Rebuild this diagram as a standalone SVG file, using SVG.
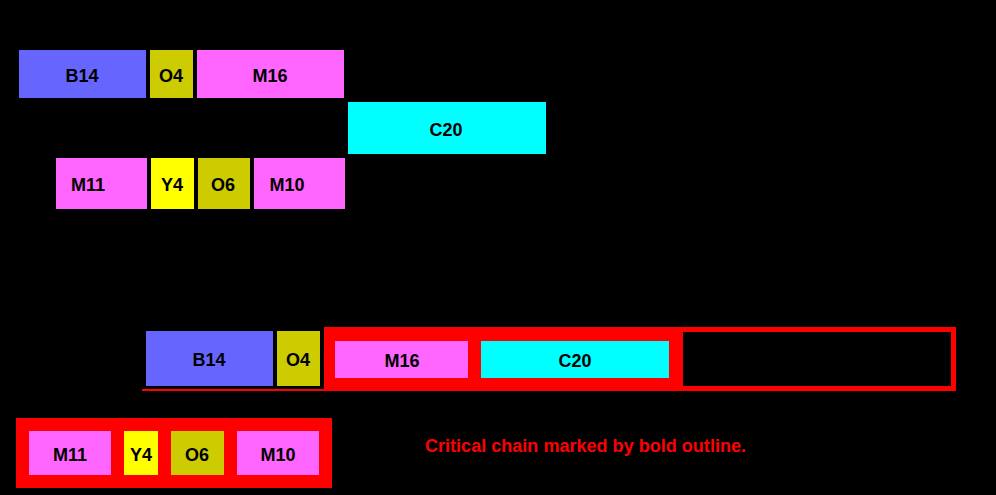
<svg xmlns="http://www.w3.org/2000/svg" width="996" height="495" viewBox="0 0 996 495">
<style>
.lbl{font-family:"Liberation Sans",Arial,sans-serif;font-weight:bold;font-size:18px;fill:#000;text-anchor:middle}
.b{fill:#6666ff}.o{fill:#cccc00}.m{fill:#ff66ff}.c{fill:#00ffff}.y{fill:#ffff00}.r{fill:#ff0000}
.note{font-family:"Liberation Sans",Arial,sans-serif;font-weight:bold;font-size:18px;fill:#ff0000}
</style>
<rect x="0" y="0" width="996" height="495" fill="#000"/>
<g id="top-B14"><rect class="b" x="19" y="50" width="127" height="48"/><text class="lbl" x="82" y="82">B14</text></g>
<g id="top-O4"><rect class="o" x="150" y="50" width="43" height="48"/><text class="lbl" x="171" y="82">O4</text></g>
<g id="top-M16"><rect class="m" x="197" y="50" width="147" height="48"/><text class="lbl" x="270" y="82">M16</text></g>
<g id="top-C20"><rect class="c" x="348" y="102" width="198" height="52"/><text class="lbl" x="446" y="136">C20</text></g>
<g id="top-M11"><rect class="m" x="56" y="158" width="91" height="51"/><text class="lbl" x="88" y="191">M11</text></g>
<g id="top-Y4"><rect class="y" x="151" y="158" width="43" height="51"/><text class="lbl" x="172" y="191">Y4</text></g>
<g id="top-O6"><rect class="o" x="198" y="158" width="52" height="51"/><text class="lbl" x="223" y="191">O6</text></g>
<g id="top-M10"><rect class="m" x="254" y="158" width="91" height="51"/><text class="lbl" x="287" y="191">M10</text></g>

<g id="connectors"><line x1="142" y1="390" x2="326" y2="390" stroke="#ff0000" stroke-width="2"/></g>

<g id="chain-box"><rect class="r" x="324" y="327" width="632" height="64"/><rect x="683" y="332" width="268" height="54" fill="#000"/></g>
<g id="bot-B14"><rect class="b" x="146" y="331" width="127" height="55"/><text class="lbl" x="209" y="366">B14</text></g>
<g id="bot-O4"><rect class="o" x="277" y="331" width="43" height="55"/><text class="lbl" x="298" y="366">O4</text></g>
<g id="bot-M16"><rect class="m" x="335" y="341" width="133" height="37"/><text class="lbl" x="402" y="367">M16</text></g>
<g id="bot-C20"><rect class="c" x="481" y="341" width="188" height="37"/><text class="lbl" x="575" y="367">C20</text></g>

<g id="feed-box"><rect class="r" x="16" y="418" width="316" height="70"/></g>
<g id="bot-M11"><rect class="m" x="29" y="431" width="82" height="44"/><text class="lbl" x="70" y="461">M11</text></g>
<g id="bot-Y4"><rect class="y" x="124" y="431" width="34" height="44"/><text class="lbl" x="141" y="461">Y4</text></g>
<g id="bot-O6"><rect class="o" x="171" y="431" width="53" height="44"/><text class="lbl" x="197" y="461">O6</text></g>
<g id="bot-M10"><rect class="m" x="237" y="431" width="82" height="44"/><text class="lbl" x="278" y="461">M10</text></g>

<g id="note"><text class="note" x="425" y="452" textLength="321" lengthAdjust="spacingAndGlyphs">Critical chain marked by bold outline.</text></g>
</svg>
